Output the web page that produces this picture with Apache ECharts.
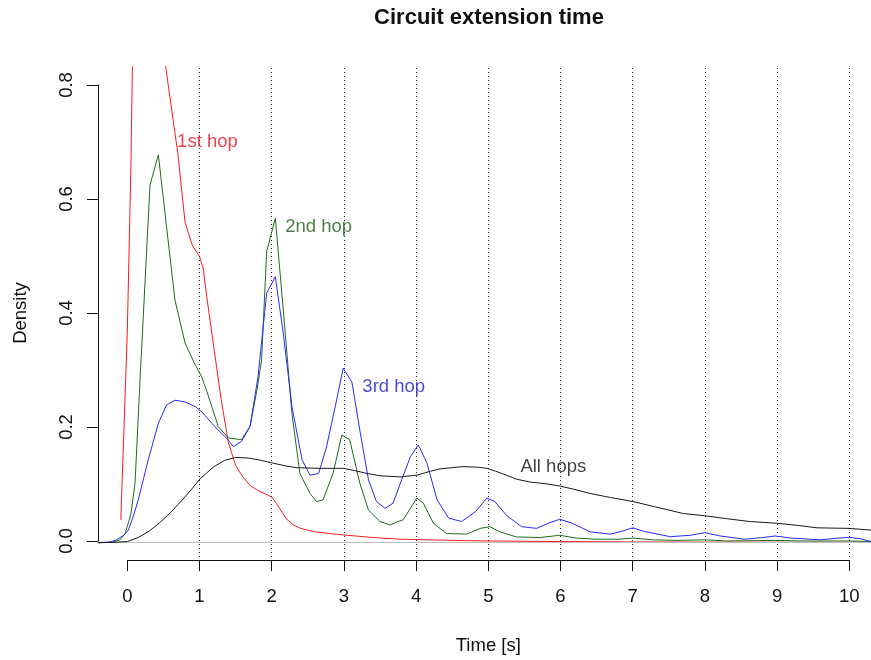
<!DOCTYPE html>
<html>
<head>
<meta charset="utf-8">
<script src="https://cdn.jsdelivr.net/npm/echarts@6/dist/echarts.min.js"></script>
<style>
html,body{margin:0;padding:0;background:#fff;}
#chart{width:871px;height:660px;}
</style>
</head>
<body>
<div id="chart"></div>
<script>
// ---- data ----
const hop1 = [[-0.09,0.04],[0.0,0.37],[0.05,0.66],[0.1,1.1],[0.2,1.6],[0.3,1.55],[0.4,1.15],[0.5,0.86],[0.6,0.77],[0.7,0.68],[0.8,0.56],[0.9,0.52],[1.0,0.50],[1.05,0.48],[1.1,0.43],[1.2,0.34],[1.3,0.25],[1.4,0.175],[1.5,0.135],[1.6,0.115],[1.7,0.10],[1.8,0.092],[1.9,0.086],[2.0,0.08],[2.1,0.062],[2.2,0.042],[2.3,0.031],[2.4,0.025],[2.6,0.019],[2.8,0.016],[3.0,0.0135],[3.4,0.009],[3.8,0.006],[4.5,0.004],[5,0.003],[6,0.002],[7,0.0013],[8,0.001],[9,0.0008],[10.3,0.0006]];
const hop2 = [[-0.406,0],[-0.2,0.001],[-0.1,0.005],[-0.03,0.016],[0.05,0.05],[0.107,0.104],[0.176,0.284],[0.314,0.625],[0.43,0.678],[0.55,0.545],[0.66,0.424],[0.80,0.349],[0.94,0.311],[1.03,0.29],[1.1,0.265],[1.26,0.203],[1.4,0.183],[1.58,0.18],[1.70,0.203],[1.8,0.27],[1.86,0.32],[1.93,0.509],[2.05,0.567],[2.16,0.407],[2.28,0.226],[2.39,0.121],[2.53,0.086],[2.62,0.072],[2.71,0.075],[2.85,0.121],[2.97,0.188],[3.08,0.18],[3.22,0.104],[3.34,0.057],[3.5,0.037],[3.64,0.031],[3.75,0.037],[3.82,0.040],[4.01,0.078],[4.10,0.069],[4.24,0.034],[4.42,0.016],[4.70,0.015],[4.89,0.025],[5.02,0.028],[5.16,0.019],[5.39,0.010],[5.72,0.009],[5.99,0.013],[6.22,0.008],[6.5,0.006],[6.8,0.006],[7.0,0.008],[7.3,0.005],[7.6,0.004],[8.0,0.005],[8.3,0.003],[9.0,0.004],[9.3,0.003],[10.0,0.003],[10.3,0.002]];
const hop3 = [[-0.406,0],[-0.25,0.001],[-0.15,0.005],[-0.05,0.013],[0.014,0.022],[0.08,0.045],[0.15,0.074],[0.29,0.145],[0.43,0.209],[0.545,0.241],[0.66,0.249],[0.80,0.246],[0.94,0.238],[1.03,0.229],[1.21,0.203],[1.38,0.182],[1.47,0.168],[1.58,0.177],[1.70,0.203],[1.81,0.29],[1.93,0.436],[2.05,0.465],[2.16,0.366],[2.28,0.238],[2.42,0.145],[2.53,0.118],[2.65,0.121],[2.76,0.168],[2.88,0.238],[2.99,0.305],[3.11,0.281],[3.22,0.197],[3.34,0.110],[3.45,0.072],[3.57,0.060],[3.68,0.069],[3.80,0.11],[3.92,0.150],[4.03,0.171],[4.15,0.139],[4.29,0.075],[4.45,0.043],[4.63,0.037],[4.82,0.054],[4.98,0.078],[5.09,0.072],[5.25,0.048],[5.46,0.028],[5.67,0.025],[5.83,0.034],[5.99,0.041],[6.16,0.034],[6.41,0.019],[6.69,0.015],[6.85,0.02],[7.0,0.026],[7.15,0.02],[7.52,0.0105],[7.8,0.013],[8.0,0.0175],[8.2,0.012],[8.55,0.006],[8.8,0.009],[8.97,0.0117],[9.2,0.008],[9.6,0.005],[9.85,0.008],[9.99,0.0095],[10.15,0.007],[10.3,0.002]];
const allHops = [[-0.406,0],[-0.2,0.0005],[0.0,0.002],[0.15,0.009],[0.3,0.02],[0.45,0.035],[0.6,0.053],[0.75,0.073],[0.9,0.095],[1.01,0.112],[1.2,0.133],[1.35,0.144],[1.5,0.149],[1.68,0.148],[1.85,0.144],[2.02,0.139],[2.2,0.134],[2.35,0.131],[2.67,0.130],[2.99,0.130],[3.15,0.126],[3.32,0.121],[3.5,0.117],[3.78,0.115],[4.01,0.118],[4.2,0.125],[4.33,0.129],[4.65,0.133],[4.85,0.132],[4.98,0.130],[5.1,0.125],[5.25,0.118],[5.39,0.111],[5.58,0.106],[5.8,0.103],[5.99,0.099],[6.2,0.093],[6.41,0.086],[6.69,0.079],[7.0,0.072],[7.3,0.063],[7.7,0.051],[8.0,0.047],[8.3,0.042],[8.62,0.037],[8.99,0.034],[9.3,0.030],[9.55,0.026],[10.0,0.025],[10.3,0.022]];

const curveNames = ['1st hop','2nd hop','3rd hop','All hops'];
const labelX = [1.11, 2.65, 3.69, 5.90];
const labelY = [0.701, 0.552, 0.272, 0.133];
const xTicks = [0,1,2,3,4,5,6,7,8,9,10];
const yTicks = [0.0,0.2,0.4,0.6,0.8];
const vlineAt = [1,2,3,4,5,6,7,8,9,10];

// ---- styles ----
const lineColors = ['#ff1a1a','#1e6a1e','#2a2aff','#1a1a1a'];
const textColors = ['#e8101e','#1d5e1d','#2020c8','#111111'];
const FONT = 'Liberation Sans, Arial, sans-serif';
const FS = 18.5;

const chart = echarts.init(document.getElementById('chart'), null, {renderer:'canvas'});

const curves = [hop1, hop2, hop3, allHops];
const lineSeries = curves.map((d, i) => ({
  type: 'line',
  name: curveNames[i],
  xAxisIndex: 0, yAxisIndex: 0,
  data: d,
  showSymbol: false,
  symbol: 'none',
  clip: true,
  lineStyle: {color: lineColors[i], width: 1},
  itemStyle: {color: lineColors[i]},
  z: 3 + i,
  silent: true
}));

const refSeries = {
  type: 'line',
  xAxisIndex: 0, yAxisIndex: 0,
  data: [],
  silent: true,
  markLine: {
    silent: true,
    symbol: ['none','none'],
    label: {show: false},
    animation: false,
    data: vlineAt.map(v => ({xAxis: v, lineStyle: {color: '#222', width: 1, type: [1, 3]}}))
      .concat([{yAxis: 0, lineStyle: {color: '#bebebe', width: 1, type: 'solid'}}])
  },
  z: 2
};

const labelSeries = {
  type: 'scatter',
  xAxisIndex: 0, yAxisIndex: 0,
  symbolSize: 0,
  silent: true,
  data: curveNames.map((n, i) => ({
    value: [labelX[i], labelY[i]],
    name: n,
    label: {color: textColors[i]}
  })),
  label: {
    show: true,
    position: 'inside',
    formatter: p => p.name,
    fontFamily: FONT,
    fontSize: FS
  },
  z: 10
};

const option = {
  animation: false,
  backgroundColor: '#ffffff',
  title: {
    text: 'Circuit extension time',
    left: 484,
    top: 2,
    textAlign: 'center',
    textStyle: {fontFamily: FONT, fontSize: 22, fontWeight: 'bold', color: '#111'}
  },
  grid: [
    {left: 98, top: 66.7, width: 773, height: 494.3, containLabel: false},
    {left: 127.3, right: 21.7, top: 85, bottom: 117.3, containLabel: false}
  ],
  xAxis: [
    {gridIndex: 0, type: 'value', min: -0.406, max: 10.30, show: false},
    {gridIndex: 1, type: 'value', min: xTicks[0], max: xTicks[xTicks.length-1], interval: 1,
     position: 'bottom', offset: 19,
     name: 'Time [s]', nameLocation: 'middle', nameGap: 76,
     nameTextStyle: {fontFamily: FONT, fontSize: FS, color: '#111'},
     axisLine: {show: true, onZero: false, lineStyle: {color: '#111', width: 1}},
     axisTick: {show: true, length: 11, lineStyle: {color: '#111', width: 1}},
     axisLabel: {show: true, margin: 27, fontFamily: FONT, fontSize: FS, color: '#111',
                 formatter: v => String(v)},
     splitLine: {show: false}}
  ],
  yAxis: [
    {gridIndex: 0, type: 'value', min: -0.032, max: 0.832, show: false},
    {gridIndex: 1, type: 'value', min: yTicks[0], max: yTicks[yTicks.length-1], interval: 0.2,
     position: 'left', offset: 29.3,
     name: 'Density', nameLocation: 'middle', nameGap: 68, nameRotate: 90,
     nameTextStyle: {fontFamily: FONT, fontSize: FS, color: '#111'},
     axisLine: {show: true, onZero: false, lineStyle: {color: '#111', width: 1}},
     axisTick: {show: true, length: 11, lineStyle: {color: '#111', width: 1}},
     axisLabel: {show: true, rotate: 90, margin: 22, fontFamily: FONT, fontSize: FS, color: '#111',
                 formatter: v => v.toFixed(1)},
     splitLine: {show: false}}
  ],
  series: [refSeries].concat(lineSeries).concat([labelSeries])
};
chart.setOption(option);
</script>
</body>
</html>
